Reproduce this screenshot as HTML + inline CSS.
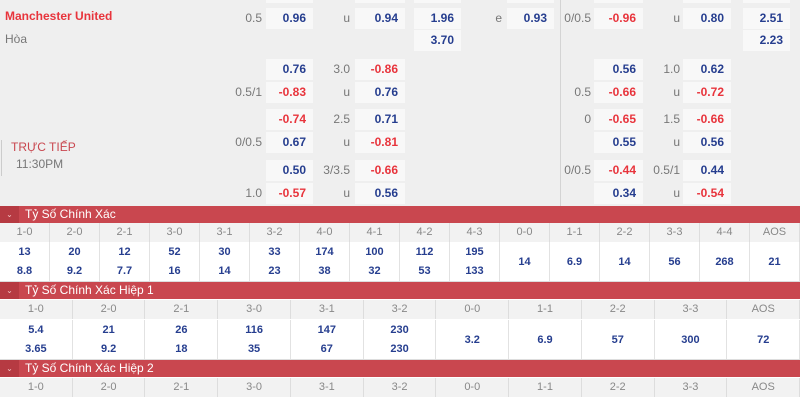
<!DOCTYPE html>
<html><head><meta charset="utf-8"><style>
*{margin:0;padding:0;box-sizing:border-box}
body{width:800px;height:400px;overflow:hidden;background:#fff;font-family:"Liberation Sans",Arial,sans-serif;position:relative}
.top{position:absolute;left:0;top:0;width:800px;height:206px;background:#efefef}
.a{position:absolute;font-size:12px}
.b{position:absolute;height:21px;background:#f8f8f8;font-weight:bold;font-size:12px;line-height:21px;text-align:right;padding-right:7px;color:#263e8f}
.r{color:#e8343c}
.l{position:absolute;font-size:12px;color:#777;line-height:21px;text-align:right}
.bar{position:absolute;left:0;width:800px;height:17px;background:#c9474f;color:#fff;font-size:12px;line-height:17px}
.bar span{position:absolute;left:25px}
.bar i{position:absolute;left:0;top:0;width:19px;height:17px;background:#b63a42;font-style:normal;font-size:8px;text-align:center;color:#f2c0c0}
.hd{position:absolute;left:0;width:800px;height:19px;background:#f2f2f2;display:flex}
.hd div{flex:1;text-align:center;font-size:11px;color:#888;line-height:19px;border-right:1px solid #ddd}
.dt{position:absolute;left:0;width:800px;height:40px;background:#fff;display:flex;border-bottom:1px solid #ddd}
.dt div{flex:1;text-align:center;font-size:11px;font-weight:bold;color:#263e8f;border-right:1px solid #e2e2e2;line-height:19px;padding-top:1px}
.dt div.s{line-height:38px}
</style></head><body>
<div class="top"></div>
<div style="position:absolute;left:560px;top:0;width:1px;height:206px;background:#d4d4d4"></div>
<div style="position:absolute;left:1px;top:140px;width:1px;height:36px;background:#ccc"></div>
<!-- top cut boxes -->
<div class="b" style="left:266px;top:-18px;width:47px"></div><div class="b" style="left:355px;top:-18px;width:50px"></div><div class="b" style="left:414px;top:-18px;width:47px"></div><div class="b" style="left:507px;top:-18px;width:47px"></div><div class="b" style="left:594px;top:-18px;width:49px"></div><div class="b" style="left:683px;top:-18px;width:48px"></div><div class="b" style="left:743px;top:-18px;width:47px"></div>
<div class="a" style="left:5px;top:9px;color:#e8343c;font-weight:bold;font-size:12px">Manchester United</div>
<div class="a" style="left:5px;top:32px;color:#777">Hòa</div>
<div class="a" style="left:11px;top:140px;color:#c9474f;font-size:12px">TRỰC TIẾP</div>
<div class="a" style="left:16px;top:157px;color:#777">11:30PM</div>
<!-- row1 -->
<div class="l" style="left:230px;top:8px;width:32px">0.5</div><div class="b" style="left:266px;top:8px;width:47px">0.96</div>
<div class="l" style="left:320px;top:8px;width:30px">u</div><div class="b" style="left:355px;top:8px;width:50px">0.94</div>
<div class="b" style="left:414px;top:8px;width:47px">1.96</div>
<div class="l" style="left:480px;top:8px;width:22px">e</div><div class="b" style="left:507px;top:8px;width:47px">0.93</div>
<div class="l" style="left:555px;top:8px;width:36px">0/0.5</div><div class="b r" style="left:594px;top:8px;width:49px">-0.96</div>
<div class="l" style="left:650px;top:8px;width:30px">u</div><div class="b" style="left:683px;top:8px;width:48px">0.80</div>
<div class="b" style="left:743px;top:8px;width:47px">2.51</div>
<div class="b" style="left:414px;top:30px;width:47px">3.70</div>
<div class="b" style="left:743px;top:30px;width:47px">2.23</div>
<!-- left blocks -->
<div class="b" style="left:266px;top:59px;width:47px">0.76</div><div class="l" style="left:320px;top:59px;width:30px">3.0</div><div class="b r" style="left:355px;top:59px;width:50px">-0.86</div>
<div class="l" style="left:225px;top:82px;width:37px">0.5/1</div><div class="b r" style="left:266px;top:82px;width:47px">-0.83</div><div class="l" style="left:320px;top:82px;width:30px">u</div><div class="b" style="left:355px;top:82px;width:50px">0.76</div>
<div class="b r" style="left:266px;top:109px;width:47px">-0.74</div><div class="l" style="left:320px;top:109px;width:30px">2.5</div><div class="b" style="left:355px;top:109px;width:50px">0.71</div>
<div class="l" style="left:225px;top:132px;width:37px">0/0.5</div><div class="b" style="left:266px;top:132px;width:47px">0.67</div><div class="l" style="left:320px;top:132px;width:30px">u</div><div class="b r" style="left:355px;top:132px;width:50px">-0.81</div>
<div class="b" style="left:266px;top:160px;width:47px">0.50</div><div class="l" style="left:314px;top:160px;width:36px">3/3.5</div><div class="b r" style="left:355px;top:160px;width:50px">-0.66</div>
<div class="l" style="left:225px;top:183px;width:37px">1.0</div><div class="b r" style="left:266px;top:183px;width:47px">-0.57</div><div class="l" style="left:320px;top:183px;width:30px">u</div><div class="b" style="left:355px;top:183px;width:50px">0.56</div>
<!-- right blocks -->
<div class="b" style="left:594px;top:59px;width:49px">0.56</div><div class="l" style="left:650px;top:59px;width:30px">1.0</div><div class="b" style="left:683px;top:59px;width:48px">0.62</div>
<div class="l" style="left:555px;top:82px;width:36px">0.5</div><div class="b r" style="left:594px;top:82px;width:49px">-0.66</div><div class="l" style="left:650px;top:82px;width:30px">u</div><div class="b r" style="left:683px;top:82px;width:48px">-0.72</div>
<div class="l" style="left:555px;top:109px;width:36px">0</div><div class="b r" style="left:594px;top:109px;width:49px">-0.65</div><div class="l" style="left:650px;top:109px;width:30px">1.5</div><div class="b r" style="left:683px;top:109px;width:48px">-0.66</div>
<div class="b" style="left:594px;top:132px;width:49px">0.55</div><div class="l" style="left:650px;top:132px;width:30px">u</div><div class="b" style="left:683px;top:132px;width:48px">0.56</div>
<div class="l" style="left:555px;top:160px;width:36px">0/0.5</div><div class="b r" style="left:594px;top:160px;width:49px">-0.44</div><div class="l" style="left:644px;top:160px;width:36px">0.5/1</div><div class="b" style="left:683px;top:160px;width:48px">0.44</div>
<div class="b" style="left:594px;top:183px;width:49px">0.34</div><div class="l" style="left:650px;top:183px;width:30px">u</div><div class="b r" style="left:683px;top:183px;width:48px">-0.54</div>

<div class="bar" style="top:206px"><i>⌄</i><span>Tỷ Số Chính Xác</span></div>
<div class="hd" style="top:223px"><div>1-0</div><div>2-0</div><div>2-1</div><div>3-0</div><div>3-1</div><div>3-2</div><div>4-0</div><div>4-1</div><div>4-2</div><div>4-3</div><div>0-0</div><div>1-1</div><div>2-2</div><div>3-3</div><div>4-4</div><div>AOS</div></div>
<div class="dt" style="top:242px"><div>13<br>8.8</div><div>20<br>9.2</div><div>12<br>7.7</div><div>52<br>16</div><div>30<br>14</div><div>33<br>23</div><div>174<br>38</div><div>100<br>32</div><div>112<br>53</div><div>195<br>133</div><div class="s">14</div><div class="s">6.9</div><div class="s">14</div><div class="s">56</div><div class="s">268</div><div class="s">21</div></div>

<div class="bar" style="top:282px"><i>⌄</i><span>Tỷ Số Chính Xác Hiệp 1</span></div>
<div class="hd" style="top:300px"><div>1-0</div><div>2-0</div><div>2-1</div><div>3-0</div><div>3-1</div><div>3-2</div><div>0-0</div><div>1-1</div><div>2-2</div><div>3-3</div><div>AOS</div></div>
<div class="dt" style="top:320px"><div>5.4<br>3.65</div><div>21<br>9.2</div><div>26<br>18</div><div>116<br>35</div><div>147<br>67</div><div>230<br>230</div><div class="s">3.2</div><div class="s">6.9</div><div class="s">57</div><div class="s">300</div><div class="s">72</div></div>

<div class="bar" style="top:360px"><i>⌄</i><span>Tỷ Số Chính Xác Hiệp 2</span></div>
<div class="hd" style="top:378px"><div>1-0</div><div>2-0</div><div>2-1</div><div>3-0</div><div>3-1</div><div>3-2</div><div>0-0</div><div>1-1</div><div>2-2</div><div>3-3</div><div>AOS</div></div>
</body></html>
